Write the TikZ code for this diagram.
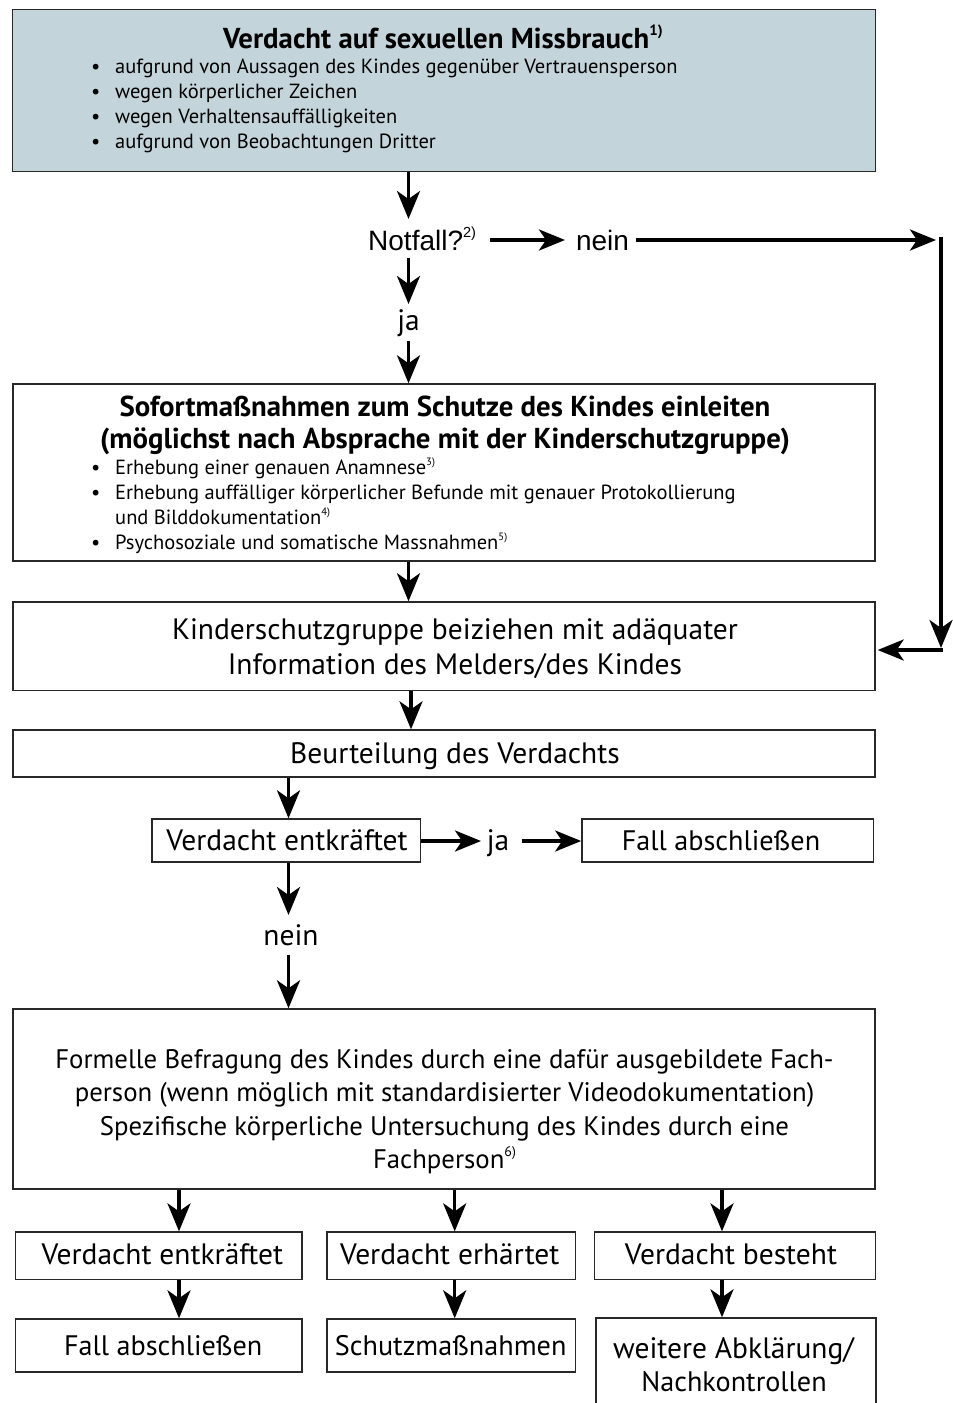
\documentclass[tikz,border=0pt]{standalone}
\usepackage{fontspec}
\setmainfont{PT Sans}
\newfontfamily\arialf{Liberation Sans}
\usetikzlibrary{arrows.meta}
\definecolor{boxblue}{RGB}{196,212,219}
\definecolor{edgegray}{RGB}{40,40,40}
\newcommand\setfs[1]{\fontsize{#1pt}{#1pt}\selectfont}
\newcommand\fnref[1]{\raisebox{0.85ex}{\fontsize{0.52em}{0.52em}\selectfont #1}}
\begin{document}
\begin{tikzpicture}[x=1pt,y=-1pt,
  box/.style={draw=edgegray, line width=1.4pt, inner sep=0pt},
  arr/.style={line width=3.4pt, -{Stealth[length=28pt,width=23pt,inset=8pt]}},
  harr/.style={line width=3.4pt, -{Stealth[length=26pt,width=21pt,inset=7pt]}},
  txt/.style={inner sep=0pt, anchor=base, font=\setfs{29.5}},
  stxt/.style={inner sep=0pt, anchor=base, font=\setfs{28.2}},
  txtb/.style={inner sep=0pt, anchor=base, font=\bfseries\setfs{28.8}},
  ftxt/.style={inner sep=0pt, anchor=base, font=\setfs{26.8}},
  bul/.style={inner sep=0pt, anchor=base west, font=\setfs{20.5}},
  atxt/.style={inner sep=0pt, font=\arialf\setfs{28}}]
\useasboundingbox (0,0) rectangle (953,1403);
\clip (0,0) rectangle (953,1403);

% ---------- Box 1
\node[box, fill=boxblue, minimum width=863pt, minimum height=162pt] (b1) at (443.8,90.5) {};
\node[txtb] (t1) at (443,48) {Verdacht auf sexuellen Missbrauch\fnref{1)}};
\foreach \yy/\tt [count=\i] in {73/aufgrund von Aussagen des Kindes gegenüber Vertrauensperson,
  98/wegen körperlicher Zeichen, 123/wegen Verhaltensauffälligkeiten,
  148/aufgrund von Beobachtungen Dritter}
  {\node[bul] (l1\i) at (91,\yy) {\makebox[24pt][l]{\textbullet}\tt};}

% ---------- Notfall
\node[atxt, anchor=base west] (notfall) at (368,250) {Notfall?\fnref{2)}};
\node[atxt, anchor=base] (nein1) at (602.5,250) {nein};
\node[txt] (ja1) at (408.5,330) {ja};

% ---------- Box 2
\node[box, minimum width=862pt, minimum height=177pt] (b2) at (444,472.5) {};
\node[txtb] (t2a) at (445,416) {Sofortmaßnahmen zum Schutze des Kindes einleiten};
\node[txtb] (t2b) at (445,448) {(möglichst nach Absprache mit der Kinderschutzgruppe)};
\node[bul] (l21) at (91,474) {\makebox[24pt][l]{\textbullet}Erhebung einer genauen Anamnese\fnref{3)}};
\node[bul] (l22) at (91,499) {\makebox[24pt][l]{\textbullet}Erhebung auffälliger körperlicher Befunde mit genauer Protokollierung};
\node[bul] (l23) at (115,524) {und Bilddokumentation\fnref{4)}};
\node[bul] (l24) at (91,549) {\makebox[24pt][l]{\textbullet}Psychosoziale und somatische Massnahmen\fnref{5)}};

% ---------- Box 3
\node[box, minimum width=862pt, minimum height=88.7pt] (b3) at (444,646.3) {};
\node[txt] (t3a) at (455,639) {Kinderschutzgruppe beiziehen mit adäquater};
\node[txt] (t3b) at (455,674) {Information des Melders/des Kindes};

% ---------- Box 4
\node[box, minimum width=862pt, minimum height=47pt] (b4) at (444,753.5) {};
\node[txt] (t4) at (455,763) {Beurteilung des Verdachts};

% ---------- Box 5, 6
\node[box, minimum width=268.7pt, minimum height=43pt] (b5) at (286.4,840.5) {};
\node[txt] (t5) at (287,850.7) {Verdacht entkräftet};
\node[txt] (ja2) at (498,850) {ja};
\node[box, minimum width=291.7pt, minimum height=43pt] (b6) at (727.7,840.5) {};
\node[stxt] (t6) at (721,850.7) {Fall abschließen};
\node[txt] (nein2) at (291,945.7) {nein};

% ---------- Box 7
\node[box, minimum width=862pt, minimum height=180pt] (b7) at (444,1099) {};
\node[ftxt] (t7a) at (444.5,1068) {Formelle Befragung des Kindes durch eine dafür ausgebildete Fach-};
\node[ftxt] (t7b) at (444.5,1101.7) {person (wenn möglich mit standardisierter Videodokumentation)};
\node[ftxt] (t7c) at (444.5,1135) {Spezifische körperliche Untersuchung des Kindes durch eine};
\node[ftxt] (t7d) at (444.5,1168) {Fachperson\fnref{6)}};

% ---------- Row 1
\node[box, minimum width=286.8pt, minimum height=47.7pt] (r1a) at (158.6,1255.9) {};
\node[box, minimum width=248.7pt, minimum height=47.7pt] (r1b) at (451.35,1255.9) {};
\node[box, minimum width=280.9pt, minimum height=47.7pt] (r1c) at (734.95,1255.9) {};
\node[txt] (u1a) at (162.3,1264.5) {Verdacht entkräftet};
\node[txt] (u1b) at (449.8,1264.5) {Verdacht erhärtet};
\node[txt] (u1c) at (731,1264.5) {Verdacht besteht};

% ---------- Row 2
\node[box, minimum width=286.8pt, minimum height=53pt] (r2a) at (158.6,1345.5) {};
\node[box, minimum width=248.7pt, minimum height=53pt] (r2b) at (451.35,1345.5) {};
\node[box, minimum width=280pt, minimum height=132pt] (r2c) at (736,1384) {};
\node[stxt] (u2a) at (163.2,1355.7) {Fall abschließen};
\node[stxt] (u2b) at (450.7,1355.7) {Schutzmaßnahmen};
\node[txt] (u2c) at (733.5,1358) {weitere Abklärung/};
\node[stxt] (u2d) at (734,1391.7) {Nachkontrollen};

% ---------- coordinates
\coordinate (xa) at (408.5,0);
\coordinate (xb) at (411,0);
\coordinate (xc) at (288.5,0);
\coordinate (xd) at (179,0);
\coordinate (xe) at (454.7,0);
\coordinate (xf) at (722,0);
\coordinate (p1) at (408.5,219);
\coordinate (p2s) at (408.5,258);
\coordinate (p2e) at (408.5,304);
\coordinate (p3s) at (408.5,341);
\coordinate (h1s) at (490,240);
\coordinate (h1e) at (565,240);
\coordinate (h2s) at (636,240);
\coordinate (h2e) at (936,240);
\coordinate (v1s) at (941,237);
\coordinate (v1e) at (941,648);
\coordinate (v2s) at (942.7,650);
\coordinate (q) at (0,650);
\coordinate (j1e) at (481,841);
\coordinate (j2s) at (521.6,841);
\coordinate (n1e) at (288.5,915);
\coordinate (n2s) at (288.5,955);

% ---------- connectors
\draw[arr] (b1.south -| xa) -- (p1);
\draw[arr] (p2s) -- (p2e);
\draw[arr] (p3s) -- (b2.north -| xa);
\draw[harr] (h1s) -- (h1e);
\draw[harr] (h2s) -- (h2e);
\draw[arr] (v1s) -- (v1e);
\draw[harr] (v2s) -- ([xshift=2pt]b3.east |- q);
\draw[arr] (b2.south -| xa) -- (b3.north -| xa);
\draw[arr] (b3.south -| xb) -- (b4.north -| xb);
\draw[arr] (b4.south -| xc) -- (b5.north -| xc);
\draw[harr] (b5.east |- j1e) -- (j1e);
\draw[harr] (j2s) -- (b6.west |- j2s);
\draw[arr] (b5.south -| xc) -- (n1e);
\draw[arr] (n2s) -- (b7.north -| xc);
\draw[arr] (b7.south -| xd) -- (r1a.north -| xd);
\draw[arr] (b7.south -| xe) -- (r1b.north -| xe);
\draw[arr] (b7.south -| xf) -- (r1c.north -| xf);
\draw[arr] (r1a.south -| xd) -- (r2a.north -| xd);
\draw[arr] (r1b.south -| xe) -- (r2b.north -| xe);
\draw[arr] (r1c.south -| xf) -- (r2c.north -| xf);
\end{tikzpicture}
\end{document}
